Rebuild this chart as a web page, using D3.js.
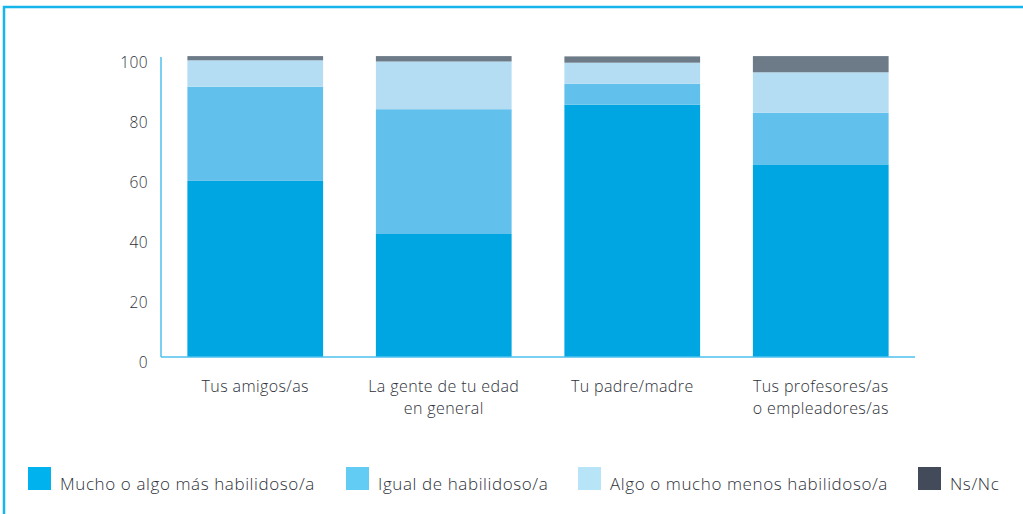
<!DOCTYPE html>
<html>
  <head>
    <meta charset="utf-8">
    <style>
      body { margin: 0; background: #fff; }
      text { font-family: "Open Sans", Lato, sans-serif; font-weight: 300; fill: #2e3139; }
    </style>
  </head>
  <body>
    <div class="chart-container"></div>
    <script src="https://cdn.jsdelivr.net/npm/d3@7"></script>
    <script>

var categories = [
  ['Tus amigos/as'],
  ['La gente de tu edad', 'en general'],
  ['Tu padre/madre'],
  ['Tus profesores/as', 'o empleadores/as']
];
var seriesNames = [
  'Mucho o algo más habilidoso/a',
  'Igual de habilidoso/a',
  'Algo o mucho menos habilidoso/a',
  'Ns/Nc'
];
var mucho = [58.7, 41.0, 84.1, 64.2];
var igual = [31.4, 41.6, 7.0, 17.2];
var algo = [8.8, 15.9, 7.0, 13.5];
var nsnc = [1.4, 1.8, 2.1, 5.4];
var yTicks = [0, 20, 40, 60, 80, 100];

var barColors = ['#00a6e2', '#62c0ec', '#b4ddf4', '#6c7b87'];
var legendColors = ['#00b3ee', '#62ccf5', '#b8e4f8', '#434a5a'];

var width = 1023;
var height = 514;

var svg = d3.select('.chart-container').append('svg')
    .attr('width', width)
    .attr('height', height);

// frame
svg.append('path')
    .attr('d', 'M4,' + height + 'V7H' + width)
    .attr('fill', 'none')
    .attr('stroke', '#16b5ea')
    .attr('stroke-width', 2.5);

var x = d3.scaleBand()
    .domain(d3.range(categories.length))
    .range([161, 915])
    .paddingInner(0.28)
    .paddingOuter(0.14);

var y = d3.scaleLinear()
    .domain([0, 100])
    .range([357, 57]);

var table = categories.map(function (c, i) {
  return { i: i, mucho: mucho[i], igual: igual[i], algo: algo[i], nsnc: nsnc[i] };
});
var stack = d3.stack().keys(['mucho', 'igual', 'algo', 'nsnc']);
var layers = stack(table);

svg.append('g').selectAll('g')
  .data(layers)
  .join('g')
    .attr('fill', function (d, k) { return barColors[k]; })
  .selectAll('rect')
  .data(function (d) { return d; })
  .join('rect')
    .attr('x', function (d) { return x(d.data.i); })
    .attr('width', x.bandwidth())
    .attr('y', function (d) { return y(d[1]); })
    .attr('height', function (d) { return y(d[0]) - y(d[1]); });

// axes lines
svg.append('line')
    .attr('x1', 161).attr('x2', 161)
    .attr('y1', y(100)).attr('y2', y(0))
    .attr('stroke', '#4cc0ee').attr('stroke-width', 1.5);
svg.append('line')
    .attr('x1', 161).attr('x2', 915)
    .attr('y1', y(0)).attr('y2', y(0))
    .attr('stroke', '#4cc0ee').attr('stroke-width', 1.5);

svg.append('g').selectAll('text')
  .data(yTicks)
  .join('text')
    .attr('x', 148)
    .attr('y', function (d) { return y(d) + 11; })
    .attr('text-anchor', 'end')
    .attr('font-size', 15.5)
    .attr('letter-spacing', 0.4)
    .text(function (d) { return d; });

svg.append('g').selectAll('text')
  .data(categories)
  .join('text')
    .attr('text-anchor', 'middle')
    .attr('font-size', 16)
    .attr('letter-spacing', 0.4)
    .attr('x', function (d, i) { return x(i) + x.bandwidth() / 2; })
    .attr('y', 392)
  .selectAll('tspan')
  .data(function (d) { return d; })
  .join('tspan')
    .attr('x', function () { return d3.select(this.parentNode).attr('x'); })
    .attr('dy', function (d, j) { return j ? 22 : 0; })
    .text(function (d) { return d; });

// legend
var legendX = [28, 346, 578, 918];
var lg = svg.append('g').selectAll('g')
  .data(seriesNames)
  .join('g')
    .attr('transform', function (d, i) { return 'translate(' + legendX[i] + ',467)'; });
lg.append('rect')
    .attr('width', 23).attr('height', 23)
    .attr('fill', function (d, i) { return legendColors[i]; });
lg.append('text')
    .attr('x', 32).attr('y', 23)
    .attr('font-size', 17)
    .attr('letter-spacing', 0.6)
    .text(function (d) { return d; });

    </script>
  </body>
</html>
